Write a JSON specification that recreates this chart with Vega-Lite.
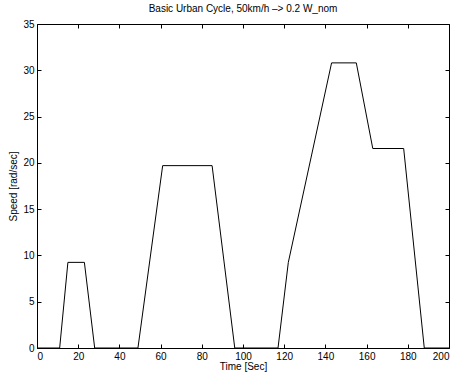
{
  "$schema": "https://vega.github.io/schema/vega-lite/v6.json",
  "autosize": "none",
  "width": 412,
  "height": 324,
  "padding": {"left": 37, "top": 24, "right": 10, "bottom": 33},
  "background": "white",
  "title": {"text": "Basic Urban Cycle, 50km/h –> 0.2 W_nom", "font": "Liberation Sans", "fontSize": 10, "fontWeight": "normal", "color": "black", "offset": 5},
  "config": {
    "view": {"stroke": null},
    "axis": {"labelFont": "Liberation Sans", "titleFont": "Liberation Sans", "labelFontSize": 10, "titleFontSize": 10, "titleFontWeight": "normal", "labelColor": "black", "titleColor": "black", "domainColor": "black", "tickColor": "black", "grid": false, "tickSize": -4, "labelPadding": 7, "domainWidth": 1}
  },
  "data": {"values": [
    {"t": 0, "v": 0}, {"t": 11, "v": 0}, {"t": 15, "v": 9.25}, {"t": 23, "v": 9.25}, {"t": 28, "v": 0},
    {"t": 49, "v": 0}, {"t": 61, "v": 19.7}, {"t": 85, "v": 19.7}, {"t": 96, "v": 0},
    {"t": 117, "v": 0}, {"t": 122, "v": 9.25}, {"t": 143, "v": 30.8}, {"t": 155, "v": 30.8},
    {"t": 163, "v": 21.55}, {"t": 178, "v": 21.55}, {"t": 188, "v": 0}, {"t": 200, "v": 0}
  ]},
  "layer": [
    {
      "mark": {"type": "line", "color": "black", "strokeWidth": 1},
      "encoding": {
        "x": {"field": "t", "type": "quantitative", "scale": {"domain": [0, 200], "nice": false}, "axis": {"values": [0,20,40,60,80,100,120,140,160,180,200], "title": "Time [Sec]", "titlePadding": 0}},
        "y": {"field": "v", "type": "quantitative", "scale": {"domain": [0, 35], "nice": false}, "axis": {"values": [0,5,10,15,20,25,30,35], "title": "Speed [rad/sec]", "titlePadding": 4}}
      }
    },
    {
      "mark": {"type": "line", "color": "black", "strokeWidth": 1, "opacity": 0},
      "encoding": {
        "x": {"field": "t", "type": "quantitative", "axis": {"orient": "top", "values": [0,20,40,60,80,100,120,140,160,180,200], "labels": false, "title": null}},
        "y": {"field": "v", "type": "quantitative", "axis": {"orient": "right", "values": [0,5,10,15,20,25,30,35], "labels": false, "title": null}}
      }
    }
  ],
  "resolve": {"axis": {"x": "independent", "y": "independent"}}
}
